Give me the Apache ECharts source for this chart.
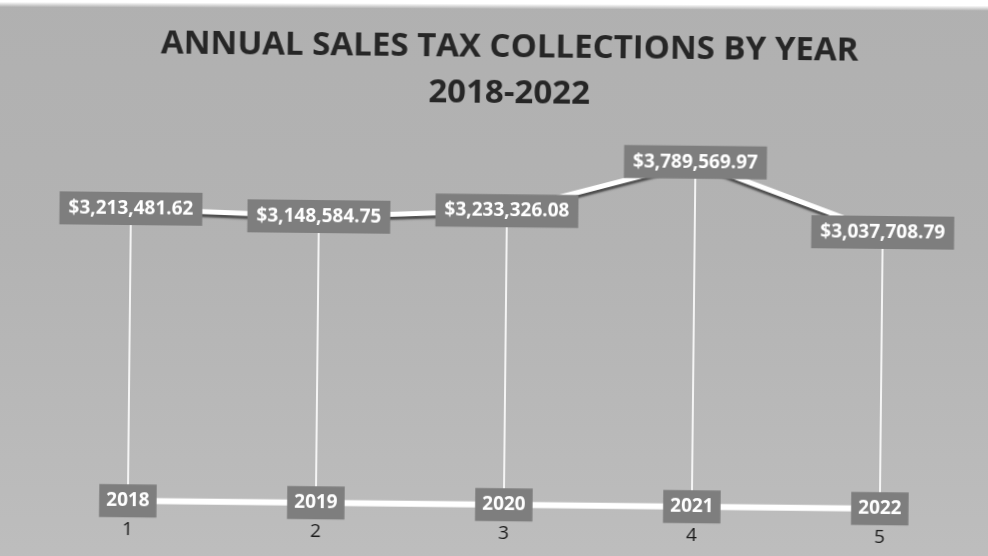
<!DOCTYPE html>
<html>
<head>
<meta charset="utf-8">
<title>Annual Sales Tax Collections by Year 2018-2022</title>
<script src="https://cdn.jsdelivr.net/npm/echarts@6/dist/echarts.min.js"></script>
<style>
  html, body { margin: 0; padding: 0; background: #ffffff; overflow: hidden; }
  #sheet {
    position: absolute; left: -20px; top: -20px; width: 1030px; height: 600px;
    background: linear-gradient(180deg, #b0b0b0 0%, #b3b3b3 45%, #bebebe 100%);
  }
  #edge {
    position: absolute; left: -20px; top: -12px; width: 1030px; height: 21px;
    background: linear-gradient(180deg, #ffffff 0%, #ffffff 75%, rgba(255,255,255,0) 100%);
    transform: rotate(0.22deg);
  }
  #chart {
    position: absolute; left: 0; top: 0; width: 988px; height: 556px;
    transform: rotate(0.6deg); transform-origin: 505px 300px;
  }
</style>
</head>
<body>
<div id="sheet"></div>
<div id="edge"></div>
<div id="chart"></div>
<script>
// Collection years and their position numbers on the category axis
const axisLabels = ['1', '2', '3', '4', '5'];
const years = [2018, 2019, 2020, 2021, 2022];
// Sales tax collected in each year (USD)
const collections = [3213481.62, 3148584.75, 3233326.08, 3789569.97, 3037708.79];

const money = v => '$' + v.toLocaleString('en-US', { minimumFractionDigits: 2, maximumFractionDigits: 2 });

// High-low connectors between the two series
const connectors = years.map((y, i) => [i, y, collections[i]]);

const chart = echarts.init(document.getElementById('chart'), null, { renderer: 'canvas' });

const boxLabel = {
  show: true,
  position: 'inside',
  color: '#ffffff',
  fontFamily: 'Open Sans',
  fontWeight: 'bold',
  backgroundColor: '#7e7e7e',
  lineHeight: 19
};

chart.setOption({
  backgroundColor: 'transparent',
  animation: false,
  title: {
    text: 'ANNUAL SALES TAX COLLECTIONS BY YEAR\n2018-2022',
    left: 502,
    textAlign: 'center',
    top: 20,
    textStyle: {
      fontFamily: 'Open Sans',
      fontWeight: 'bold',
      fontSize: 33,
      lineHeight: 46,
      color: '#262626'
    }
  },
  grid: { left: 36, right: 12, top: 95.5, bottom: 51 },
  xAxis: {
    type: 'category',
    data: axisLabels,
    boundaryGap: true,
    axisLine: { show: false },
    axisTick: { show: false },
    splitLine: { show: false },
    axisLabel: { color: '#1a1a1a', fontFamily: 'Open Sans', fontSize: 19, margin: 19 }
  },
  yAxis: {
    type: 'value',
    min: 0,
    max: 4500000,
    show: false,
    splitLine: { show: false }
  },
  series: [
    {
      type: 'custom',
      z: 1,
      silent: true,
      data: connectors,
      renderItem: (params, api) => {
        const lo = api.coord([api.value(0), api.value(1)]);
        const hi = api.coord([api.value(0), api.value(2)]);
        return {
          type: 'line',
          shape: { x1: lo[0], y1: lo[1], x2: hi[0], y2: hi[1] },
          style: { stroke: 'rgba(255,255,255,0.85)', lineWidth: 2 }
        };
      }
    },
    {
      name: 'Year',
      type: 'line',
      z: 3,
      data: years,
      symbol: 'circle',
      symbolSize: 2,
      showSymbol: true,
      itemStyle: { color: '#ffffff' },
      lineStyle: { color: '#ffffff', width: 6 },
      label: Object.assign({}, boxLabel, {
        fontSize: 19,
        padding: [7, 7, 7, 7],
        formatter: p => String(p.value)
      })
    },
    {
      name: 'Sales Tax Collections',
      type: 'line',
      z: 4,
      data: collections,
      symbol: 'circle',
      symbolSize: 2,
      showSymbol: true,
      itemStyle: { color: '#ffffff' },
      lineStyle: {
        color: '#ffffff',
        width: 5,
        shadowColor: 'rgba(40,40,40,0.75)',
        shadowBlur: 2,
        shadowOffsetY: 3
      },
      label: Object.assign({}, boxLabel, {
        fontSize: 19,
        padding: [7, 9, 7, 9],
        formatter: p => money(p.value)
      })
    }
  ]
});
</script>
</body>
</html>
